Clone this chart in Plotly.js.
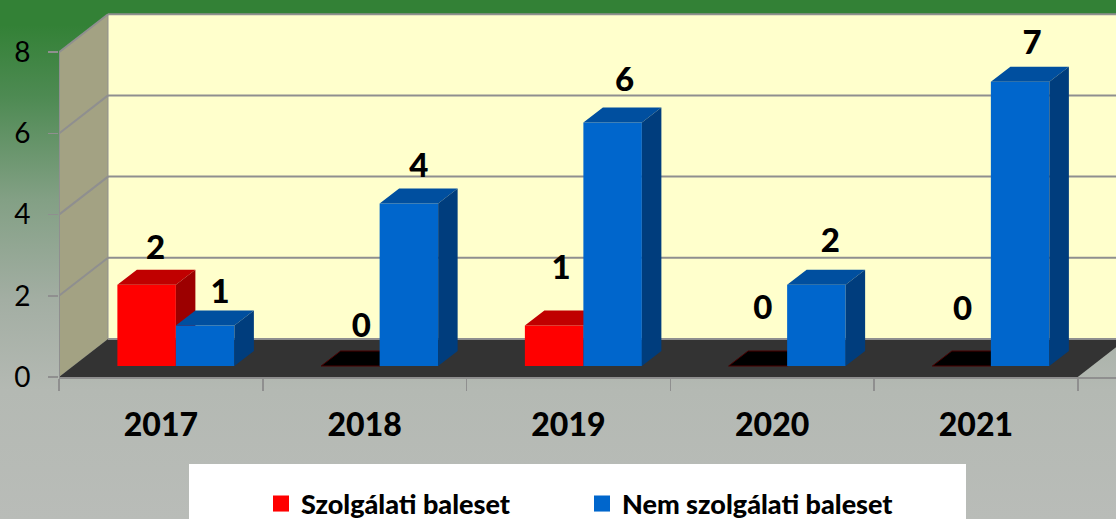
<!DOCTYPE html>
<html>
<head>
<meta charset="utf-8">
<script src="https://cdn.plot.ly/plotly-3.0.1.min.js"></script>
<style>
html,body{margin:0;padding:0;width:1116px;height:519px;overflow:hidden;
background:linear-gradient(180deg,#338136 0px,#338136 25px,#4d8a52 95px,#83a085 200px,#a3aea3 300px,#b4b9b3 390px,#b9bcb8 519px);}
#chart{width:1116px;height:519px;}
</style>
</head>
<body>
<div id="chart"></div>
<script>
var years = ['2017','2018','2019','2020','2021'];
var szolgalati = [2,0,1,0,0];
var nemSzolgalati = [1,4,6,2,7];
var yTicks = [0,2,4,6,8];
var seriesNames = ['Szolgálati baleset','Nem szolgálati baleset'];

// unit sizes of the plot, px per axis unit
var pxX = 203.75, pxY = 40.6;
var L = 59, T = 8, B = 142, W = 1116, H = 519;
var xMax = (W - L) / pxX, yMax = (H - B - T) / pxY;

// pseudo-3D depths, expressed in axis units
var wallDx = 49 / pxX, wallDy = 38 / pxY;
var insetDx = 15 / pxX, insetDy = 11 / pxY;
var barDx = 19.5 / pxX, barDy = 15 / pxY;
var barW = 58.5 / pxX;

var centers = years.map(function (_, i) { return i + 0.5; });
var grey = '#8f8f8f';

// label nudges in px relative to the top centre of each bar's front face
var redNudge = [[9,34],[11,37],[7,55],[5,55],[1,54]];
var blueNudge = [[15,31],[10,35],[12,40],[14,41],[12,36]];

function poly(pts) {
  return 'M' + pts.map(function (p) { return p[0] + ',' + p[1]; }).join('L') + 'Z';
}
var shapes = [];
// legend panel
shapes.push({type:'rect', xref:'paper', yref:'paper', layer:'below',
  x0:(189-L)/(W-L), x1:(966-L)/(W-L),
  y0:(377-530)/(H-B-T), y1:(377-464)/(H-B-T),
  fillcolor:'#ffffff', line:{width:0}});
// left wall, back wall, floor
shapes.push({type:'path', layer:'below', xref:'x', yref:'y', fillcolor:'#a3a283', line:{width:0},
  path:poly([[0,0],[wallDx,wallDy],[wallDx,8+wallDy],[0,8]])});
shapes.push({type:'path', layer:'below', xref:'x', yref:'y', fillcolor:'#ffffcc', line:{width:0},
  path:poly([[wallDx,wallDy],[xMax+1,wallDy],[xMax+1,8+wallDy],[wallDx,8+wallDy]])});
shapes.push({type:'path', layer:'below', xref:'x', yref:'y', fillcolor:'#333333', line:{width:0},
  path:poly([[0,0],[5,0],[5+wallDx,wallDy],[wallDx,wallDy]])});
// grid on both walls
yTicks.forEach(function (t) {
  if (t > 0) {
    shapes.push({type:'line', layer:'below', xref:'x', yref:'y', x0:0, y0:t, x1:wallDx, y1:t+wallDy, line:{color:grey,width:2}});
  }
  shapes.push({type:'line', layer:'below', xref:'x', yref:'y', x0:wallDx, y0:t+wallDy, x1:xMax+1, y1:t+wallDy, line:{color:grey,width:2}});
});
shapes.push({type:'line', layer:'below', xref:'x', yref:'y', x0:wallDx, y0:wallDy, x1:wallDx, y1:8+wallDy, line:{color:grey,width:1}});

function faces(vals, offset) {
  var top = {x:[],y:[]}, side = {x:[],y:[]}, flat = {x:[],y:[]};
  vals.forEach(function (v, i) {
    var xl = centers[i] + offset, xr = xl + barW, y0 = insetDy, y1 = insetDy + v;
    var t = v > 0 ? top : flat;
    t.x.push(xl, xr, xr+barDx, xl+barDx, xl, null);
    t.y.push(y1, y1, y1+barDy, y1+barDy, y1, null);
    if (v > 0) {
      side.x.push(xr, xr+barDx, xr+barDx, xr, xr, null);
      side.y.push(y0, y0+barDy, y1+barDy, y1, y0, null);
    }
  });
  return {top:top, side:side, flat:flat};
}
function polyTrace(d, fill, ax, lineColor) {
  return {type:'scatter', mode:'lines', x:d.x, y:d.y, fill:'toself', fillcolor:fill,
    line:{width:lineColor?1:0, color:lineColor||fill}, hoverinfo:'skip', showlegend:false,
    xaxis:ax[0], yaxis:ax[1]};
}
function barTrace(vals, offset, color, ax) {
  return {type:'bar', x:centers, y:vals, base:insetDy, width:barW, offset:offset,
    marker:{color:color, line:{width:0}}, hoverinfo:'skip', showlegend:false,
    xaxis:ax[0], yaxis:ax[1]};
}
function legendTrace(name, color) {
  return {type:'scatter', mode:'markers', name:name, x:[null], y:[null], xaxis:'x2', yaxis:'y2',
    marker:{symbol:'square', size:16, color:color}, hoverinfo:'skip', showlegend:true};
}
function labelTrace(vals, offset, nudge) {
  return {type:'scatter', mode:'text', xaxis:'x2', yaxis:'y2', hoverinfo:'skip', showlegend:false,
    x: vals.map(function (v, i) { return centers[i] + offset + barW/2 + nudge[i][0]/pxX; }),
    y: vals.map(function (v, i) { return insetDy + v + nudge[i][1]/pxY; }),
    text: vals.map(String), textposition:'middle center',
    textfont:{family:'Lato, Carlito, sans-serif', size:33, weight:900, color:'#000000'}};
}
var redOff = insetDx - barW, blueOff = insetDx;
var r = faces(szolgalati, redOff), b = faces(nemSzolgalati, blueOff);
var A1 = ['x','y'], A2 = ['x2','y2'];
var data = [
  barTrace(szolgalati, redOff, '#ff0000', A1),
  polyTrace(r.flat, '#000000', A1, '#4a0000'),
  polyTrace(r.top, '#c00000', A1),
  polyTrace(r.side, '#9c0000', A1),
  barTrace(nemSzolgalati, blueOff, '#0066cc', A2),
  polyTrace(b.top, '#004f9f', A2),
  polyTrace(b.side, '#003d7d', A2),
  labelTrace(szolgalati, redOff, redNudge),
  labelTrace(nemSzolgalati, blueOff, blueNudge),
  legendTrace(seriesNames[0], '#ff0000'),
  legendTrace(seriesNames[1], '#0066cc')
];
var layout = {
  width:W, height:H, autosize:false,
  margin:{l:L, r:0, t:T, b:B, autoexpand:false},
  paper_bgcolor:'rgba(0,0,0,0)', plot_bgcolor:'rgba(0,0,0,0)',
  barmode:'overlay',
  showlegend:true,
  xaxis:{type:'linear', range:[0,xMax], tickmode:'array', tickvals:[0,1,2,3,4,5], ticktext:['','','','','',''],
    ticks:'outside', ticklen:12, tickwidth:1.5, tickcolor:grey, showgrid:false, zeroline:false,
    showline:true, linecolor:grey, linewidth:2, fixedrange:true},
  xaxis2:{type:'linear', overlaying:'x', anchor:'y2', side:'bottom', range:[0,xMax], tickmode:'array', tickvals:centers, ticktext:years,
    ticks:'', showgrid:false, zeroline:false, showline:false, ticklabelstandoff:26,
    tickfont:{family:'Lato, Carlito, sans-serif', size:32, weight:900, color:'#000000'}, fixedrange:true},
  yaxis:{type:'linear', range:[0,yMax], tickmode:'array', tickvals:yTicks, ticks:'outside', ticklen:10, tickwidth:1.5, tickcolor:grey,
    showgrid:false, zeroline:false, showline:false, ticklabelstandoff:12,
    tickfont:{family:'Lato, Carlito, sans-serif', size:28, color:'#000000'}, fixedrange:true},
  yaxis2:{type:'linear', overlaying:'y', range:[0,yMax], showticklabels:false, ticks:'', showgrid:false, zeroline:false, showline:false, fixedrange:true},
  shapes:shapes.concat([{type:'line', layer:'below', xref:'x', yref:'y', x0:0, y0:0, x1:0, y1:8, line:{color:grey,width:2}}]),
  legend:{orientation:'h', x:(261-L)/(W-L), xanchor:'left', y:(377-504)/(H-B-T), yanchor:'middle',
    bgcolor:'rgba(0,0,0,0)', borderwidth:0, entrywidth:276, entrywidthmode:'pixels', itemclick:false, itemdoubleclick:false,
    traceorder:'normal', font:{family:'Lato, Carlito, sans-serif', size:27, weight:900, color:'#000000'}}
};
Plotly.newPlot('chart', data, layout, {displayModeBar:false, staticPlot:true});
</script>
</body>
</html>
